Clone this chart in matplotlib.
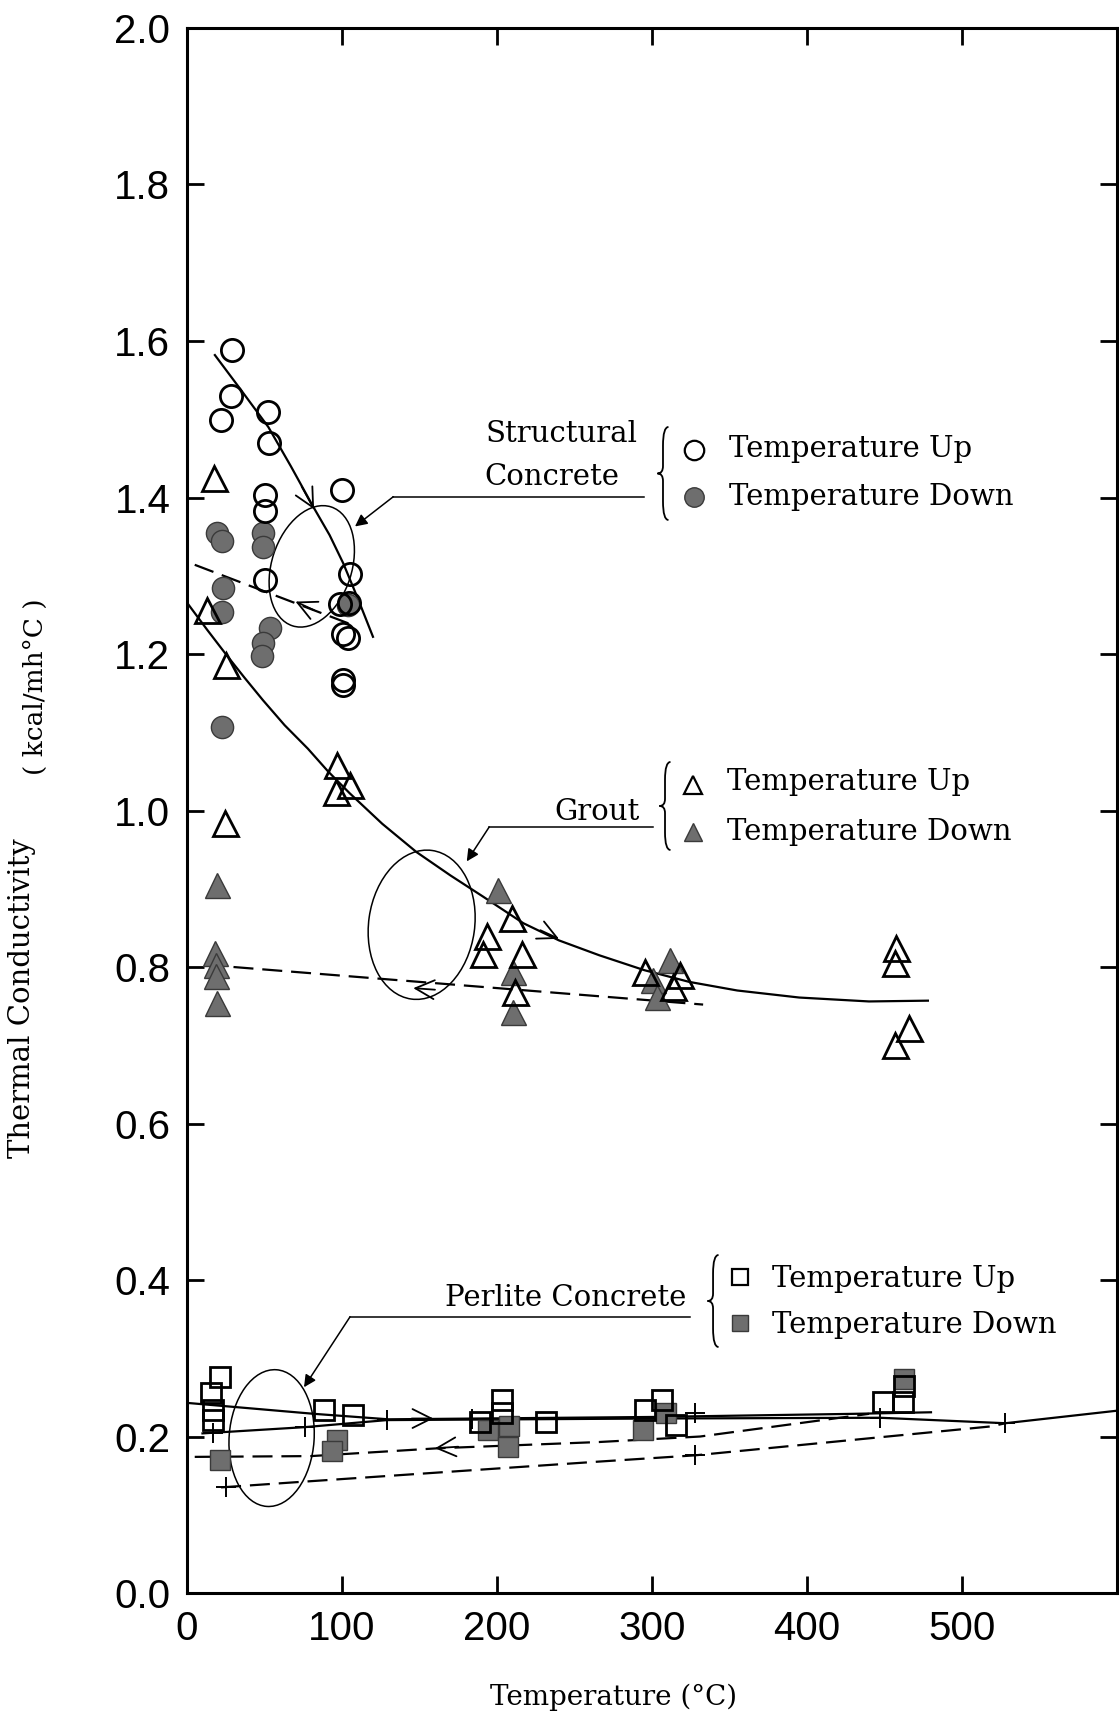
import matplotlib.pyplot as plt
import numpy as np
from matplotlib.patches import Ellipse, PathPatch
from matplotlib.path import Path
from matplotlib.transforms import ScaledTranslation

# structural concrete
sc_up_t = [28.8, 28.4, 21.9, 52.5, 53.1, 100.2, 50.3, 50.3, 50.3, 105.2, 98.7, 104.7, 100.5, 104.0, 100.8, 100.8]
sc_up_k = [1.588, 1.530, 1.499, 1.509, 1.470, 1.410, 1.403, 1.383, 1.295, 1.302, 1.264, 1.265, 1.226, 1.220, 1.167, 1.160]
sc_dn_t = [19.1, 22.4, 49.2, 49.2, 23.4, 22.4, 53.5, 49.2, 48.2, 22.4, 104.0]
sc_dn_k = [1.354, 1.344, 1.354, 1.337, 1.284, 1.254, 1.233, 1.214, 1.197, 1.107, 1.262]

# grout
gr_up_t = [17.4, 12.7, 25.2, 96.6, 105.2, 96.1, 24.5, 209.5, 193.3, 191.2, 216.0, 211.6,
           295.5, 313.7, 318.0, 457.4, 456.8, 466.0, 456.8]
gr_up_k = [1.425, 1.256, 1.186, 1.058, 1.033, 1.024, 0.984, 0.862, 0.839, 0.817, 0.817, 0.768,
           0.794, 0.775, 0.790, 0.824, 0.805, 0.722, 0.700]
gr_dn_t = [19.2, 18.1, 18.6, 19.0, 19.2, 200.8, 210.5, 210.5, 311.6, 300.8, 303.0]
gr_dn_k = [0.905, 0.818, 0.803, 0.788, 0.754, 0.898, 0.794, 0.743, 0.809, 0.783, 0.762]

# perlite concrete
pc_up_t = [21.4, 15.7, 16.8, 16.8, 88.6, 107.4, 203.5, 203.0, 188.8, 231.9, 295.2, 306.5, 315.6,
           449.2, 462.1, 462.6]
pc_up_k = [0.276, 0.255, 0.234, 0.221, 0.234, 0.227, 0.247, 0.230, 0.219, 0.219, 0.234, 0.247, 0.215,
           0.244, 0.244, 0.264]
pc_dn_t = [21.4, 96.8, 93.8, 194.5, 208.0, 207.0, 294.1, 308.8, 462.6]
pc_dn_k = [0.170, 0.196, 0.181, 0.208, 0.213, 0.187, 0.208, 0.230, 0.274]

# trend lines
sc_fit_t = [18, 35, 52.5, 67, 81.5, 92, 100.8, 110, 120]
sc_fit_k = [1.582, 1.537, 1.490, 1.440, 1.388, 1.352, 1.316, 1.272, 1.222]
sc_cool_t = [5, 107]
sc_cool_k = [1.314, 1.237]

gr_fit_t = [1, 13, 25, 37, 49, 63, 78, 91, 105, 126, 148, 170, 191, 217, 240, 266, 295, 324, 355,
            395, 440, 478]
gr_fit_k = [1.263, 1.231, 1.200, 1.170, 1.141, 1.109, 1.079, 1.050, 1.022, 0.983, 0.947, 0.917,
            0.890, 0.856, 0.834, 0.815, 0.796, 0.781, 0.770, 0.761, 0.756, 0.757]
gr_cool_t = [30, 333]
gr_cool_k = [0.800, 0.752]

pc_a_t = [0, 82, 130, 300, 430, 480]
pc_a_k = [0.243, 0.229, 0.222, 0.225, 0.229, 0.231]
pc_b_t = [10, 76, 129, 300, 447, 528, 600]
pc_b_k = [0.204, 0.212, 0.221, 0.223, 0.224, 0.217, 0.233]
pc_c_t = [5, 80, 162, 266, 331, 440]
pc_c_k = [0.174, 0.175, 0.185, 0.193, 0.200, 0.229]
pc_d_t = [22, 73, 266, 328, 519, 528]
pc_d_k = [0.135, 0.142, 0.168, 0.176, 0.213, 0.217]
pc_plus_t = [17, 76, 129, 184, 328, 447, 528, 25, 328]
pc_plus_k = [0.204, 0.212, 0.221, 0.222, 0.230, 0.224, 0.217, 0.135, 0.176]

SERIF = 'DejaVu Serif'
GREY = '#6e6e6e'

fig = plt.figure(figsize=(11.19, 17.17), dpi=100)
ax = fig.add_axes([0.1671, 0.0722, 0.8311, 0.9115])
ax.set_xlim(0, 600)
ax.set_ylim(0, 2.0)

# fitted curves
lw = 1.6
ax.plot(sc_fit_t, sc_fit_k, color='black', lw=lw)
ax.plot(sc_cool_t, sc_cool_k, color='black', lw=lw, dashes=(9, 4))
ax.plot(gr_fit_t, gr_fit_k, color='black', lw=lw)
ax.plot(gr_cool_t, gr_cool_k, color='black', lw=lw, dashes=(9, 4))
ax.plot(pc_a_t, pc_a_k, color='black', lw=lw)
ax.plot(pc_b_t, pc_b_k, color='black', lw=lw)
ax.plot(pc_c_t, pc_c_k, color='black', lw=lw, dashes=(9, 4))
ax.plot(pc_d_t, pc_d_k, color='black', lw=lw, dashes=(9, 4))
ax.plot(pc_plus_t, pc_plus_k, ls='none', marker='+', ms=14, mew=1.4, color='black')

# direction arrows along the curves
def flow(x0, y0, x1, y1):
    ax.annotate('', xy=(x1, y1), xytext=(x0, y0),
                arrowprops=dict(arrowstyle='->', lw=1.3, mutation_scale=34, color='black',
                                shrinkA=0, shrinkB=0))

flow(74, 1.414, 82, 1.385)
flow(82, 1.256, 70, 1.267)
flow(228, 0.847, 240, 0.836)
flow(160, 0.771, 146, 0.773)
flow(145, 0.223, 159, 0.223)
flow(175, 0.187, 160, 0.185)

# scatter points
ms_c, ms_t, ms_s = 16, 18, 15
ax.plot(sc_dn_t, sc_dn_k, ls='none', marker='o', ms=ms_c, mfc=GREY, mec='#3a3a3a', mew=1.0)
ax.plot(sc_up_t, sc_up_k, ls='none', marker='o', ms=ms_c, mfc='none', mec='black', mew=2.0)
ax.plot(gr_dn_t, gr_dn_k, ls='none', marker='^', ms=ms_t, mfc=GREY, mec='#3a3a3a', mew=1.0)
ax.plot(gr_up_t, gr_up_k, ls='none', marker='^', ms=ms_t, mfc='none', mec='black', mew=2.0)
ax.plot(pc_dn_t, pc_dn_k, ls='none', marker='s', ms=ms_s, mfc=GREY, mec='#3a3a3a', mew=1.0)
ax.plot(pc_up_t, pc_up_k, ls='none', marker='s', ms=ms_s, mfc='none', mec='black', mew=2.0)

# ellipses marking the hysteresis loops (sizes in inches)
for cx, cy, w, h, ang in [(80.5, 1.312, 0.80, 1.25, -18),
                          (151.4, 0.854, 1.06, 1.50, -8),
                          (54.6, 0.198, 0.85, 1.37, -4)]:
    tr = fig.dpi_scale_trans + ScaledTranslation(cx, cy, ax.transData)
    ax.add_patch(Ellipse((0, 0), w, h, angle=ang, transform=tr, fill=False, lw=1.1, color='black'))

# leader lines to the labels
for tip, elbow, end in [((108.4, 1.363), (133.1, 1.401), 294.8),
                        ((180.5, 0.935), (195.0, 0.979), 300.6),
                        ((75.5, 0.263), (105.2, 0.353), 324.5)]:
    ax.plot([elbow[0], end], [elbow[1], elbow[1]], color='black', lw=1.1)
    ax.annotate('', xy=tip, xytext=elbow,
                arrowprops=dict(arrowstyle='-|>', lw=1.1, mutation_scale=18, color='black',
                                shrinkA=0, shrinkB=0))

def brace(x, y, h, w=0.11):
    verts = [(w / 2, h / 2), (0, h / 2), (0, 0.3 * h), (0, 0.08 * h), (0, 0), (-w / 2, 0),
             (0, 0), (0, -0.08 * h), (0, -0.3 * h), (0, -h / 2), (w / 2, -h / 2)]
    codes = [Path.MOVETO, Path.CURVE3, Path.CURVE3, Path.LINETO, Path.CURVE3, Path.CURVE3,
             Path.CURVE3, Path.CURVE3, Path.LINETO, Path.CURVE3, Path.CURVE3]
    tr = fig.dpi_scale_trans + ScaledTranslation(x, y, ax.transData)
    ax.add_patch(PathPatch(Path(verts, codes), transform=tr, fill=False, lw=1.3, color='black'))

fs = 21
# structural concrete label
ax.text(192.9, 1.4713, 'Structural', fontsize=fs, family=SERIF)
ax.text(191.6, 1.4160, 'Concrete', fontsize=fs, family=SERIF)
brace(307.1, 1.4307, 0.93)
ax.plot([327.1], [1.4607], marker='o', ms=14, mfc='none', mec='black', mew=1.6)
ax.plot([327.1], [1.4006], marker='o', ms=14, mfc=GREY, mec='#3a3a3a', mew=1.0)
ax.text(349.7, 1.4514, 'Temperature Up', fontsize=fs, family=SERIF)
ax.text(349.7, 1.3904, 'Temperature Down', fontsize=fs, family=SERIF)

# grout label
ax.text(292.3, 0.9879, 'Grout', fontsize=fs, family=SERIF, ha='right')
brace(308.4, 1.0058, 0.88)
ax.plot([326.5], [1.0326], marker='^', ms=13, mfc='none', mec='black', mew=1.6)
ax.plot([326.5], [0.9725], marker='^', ms=13, mfc=GREY, mec='#3a3a3a', mew=1.0)
ax.text(348.4, 1.0262, 'Temperature Up', fontsize=fs, family=SERIF)
ax.text(348.4, 0.9623, 'Temperature Down', fontsize=fs, family=SERIF)

# perlite concrete label
ax.text(166.2, 0.3668, 'Perlite Concrete', fontsize=fs, family=SERIF)
brace(339.4, 0.3732, 0.92)
ax.plot([356.8], [0.4038], marker='s', ms=12, mfc='none', mec='black', mew=1.6)
ax.plot([356.8], [0.3450], marker='s', ms=12, mfc=GREY, mec='#3a3a3a', mew=1.0)
ax.text(377.4, 0.3907, 'Temperature Up', fontsize=fs, family=SERIF)
ax.text(377.4, 0.3326, 'Temperature Down', fontsize=fs, family=SERIF)

# axes styling
ax.set_xticks(np.arange(0, 600, 100))
ax.set_yticks(np.arange(0, 2.01, 0.2))
ax.set_yticklabels([f'{v:.1f}' for v in np.arange(0, 2.01, 0.2)])
ax.tick_params(direction='in', length=12, width=2, top=True, right=True,
               labelsize=29, pad=12)
for lab in ax.get_xticklabels() + ax.get_yticklabels():
    lab.set_family('Liberation Sans')
for sp in ax.spines.values():
    sp.set_linewidth(2.2)

fig.text(0.5487, 0.0116, 'Temperature (°C)', fontsize=20, family=SERIF, ha='center', va='center')
fig.text(0.0197, 0.4188, 'Thermal Conductivity', fontsize=21, family=SERIF,
         rotation=90, ha='center', va='center')
fig.text(0.0313, 0.600, '( kcal/mh°C )', fontsize=19, family=SERIF,
         rotation=90, ha='center', va='center')

fig.savefig('out.png', dpi=100)
